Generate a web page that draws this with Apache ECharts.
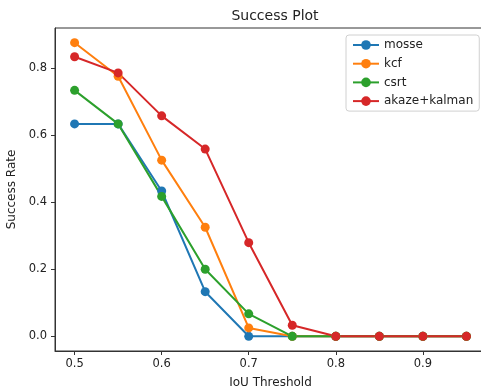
<!DOCTYPE html>
<html>
<head>
<meta charset="utf-8">
<script src="https://cdn.jsdelivr.net/npm/echarts@6/dist/echarts.min.js"></script>
<style>
  html, body { margin: 0; padding: 0; background: #fff; }
  #main { width: 481px; height: 390px; }
</style>
</head>
<body>
<div id="main"></div>
<script>
// IoU thresholds on the x axis
const thresholds = [0.5, 0.55, 0.6, 0.65, 0.7, 0.75, 0.8, 0.85, 0.9, 0.95];
const mosse = [0.633, 0.633, 0.433, 0.133, 0, 0, 0, 0, 0, 0];
const kcf = [0.875, 0.775, 0.525, 0.325, 0.025, 0, 0, 0, 0, 0];
const csrt = [0.733, 0.633, 0.417, 0.2, 0.067, 0, 0, 0, 0, 0];
const akazeKalman = [0.833, 0.785, 0.657, 0.558, 0.279, 0.033, 0, 0, 0, 0];
const xTicks = [0.5, 0.6, 0.7, 0.8, 0.9];
const yTicks = [0, 0.2, 0.4, 0.6, 0.8];

const font = "DejaVu Sans";

function makeSeries(name, values, color) {
  return {
    name: name,
    type: "line",
    data: thresholds.map((t, i) => [t, values[i]]),
    symbol: "circle",
    symbolSize: 9,
    color: color,
    lineStyle: { width: 2, color: color },
    itemStyle: { color: color },
    emphasis: { disabled: true },
  };
}

let myChart = echarts.init(document.getElementById("main"));
myChart.setOption({
  animation: false,
  title: {
    text: "Success Plot",
    left: 270,
    textAlign: "center",
    top: 4,
    textStyle: { fontFamily: font, fontSize: 14, fontWeight: "normal", color: "#222" },
  },
  legend: {
    orient: "vertical",
    left: 346,
    top: 35,
    padding: [4, 6],
    itemWidth: 26,
    itemHeight: 12,
    itemGap: 6.7,
    borderColor: "#d0d0d0",
    borderWidth: 1,
    borderRadius: 3,
    backgroundColor: "rgba(255,255,255,0.8)",
    textStyle: { fontFamily: font, fontSize: 12, color: "#222" },
  },
  grid: {
    left: 55,
    top: 28,
    width: 431,
    height: 323,
    containLabel: false,
    outerBoundsMode: "none",
    show: true,
    borderColor: "#333",
    borderWidth: 1,
  },
  xAxis: {
    type: "value",
    min: 0.4775,
    max: 0.9725,
    name: "IoU Threshold",
    nameLocation: "middle",
    nameGap: 26,
    nameTextStyle: { fontFamily: font, fontSize: 12, color: "#222" },
    splitLine: { show: false },
    axisLine: { show: true, onZero: false, lineStyle: { color: "#333", width: 1 } },
    axisTick: { show: true, length: 4, customValues: xTicks, lineStyle: { color: "#333" } },
    axisLabel: {
      customValues: xTicks,
      margin: 7,
      fontFamily: font,
      fontSize: 11.5,
      color: "#222",
      formatter: (v) => v.toFixed(1),
    },
  },
  yAxis: {
    type: "value",
    min: -0.04375,
    max: 0.91875,
    name: "Success Rate",
    nameLocation: "middle",
    nameGap: 30,
    nameTextStyle: { fontFamily: font, fontSize: 12, color: "#222" },
    splitLine: { show: false },
    axisLine: { show: true, onZero: false, lineStyle: { color: "#333", width: 1 } },
    axisTick: { show: true, length: 4, customValues: yTicks, lineStyle: { color: "#333" } },
    axisLabel: {
      customValues: yTicks,
      margin: 8,
      fontFamily: font,
      fontSize: 11.5,
      color: "#222",
      formatter: (v) => v.toFixed(1),
    },
  },
  series: [
    makeSeries("mosse", mosse, "#1f77b4"),
    makeSeries("kcf", kcf, "#ff7f0e"),
    makeSeries("csrt", csrt, "#2ca02c"),
    makeSeries("akaze+kalman", akazeKalman, "#d62728"),
  ],
});
</script>
</body>
</html>
